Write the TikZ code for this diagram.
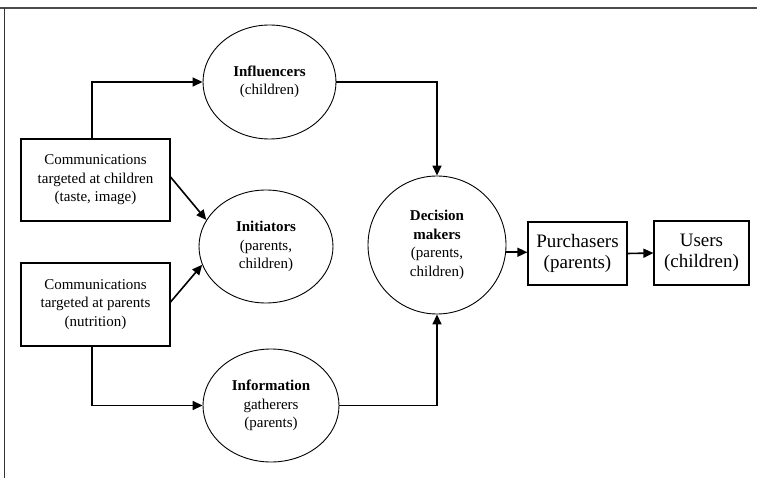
\documentclass[tikz,border=0pt]{standalone}
\usepackage{fontspec}
\setmainfont{Liberation Serif}
\usetikzlibrary{arrows.meta,shapes.geometric}

\tikzset{
  txt/.style={align=center, font=\fontsize{15}{18.5}\selectfont, inner sep=0pt},
  srcbox/.style={txt, draw, line width=1.1pt, rectangle},
  rolebox/.style={draw, line width=1.2pt, rectangle, align=center, inner sep=0pt,
    font=\fontsize{19}{20.5}\selectfont},
  role/.style={txt, draw, line width=0.9pt, ellipse},
  conn/.style={line width=1.6pt, -{Triangle[length=10pt,width=9pt]}},
}

\begin{document}
\begin{tikzpicture}[x=1pt, y=-1pt]
\useasboundingbox (0,0) rectangle (757,478);

% page frame
\draw[black!70, line width=1.6pt] (0,8) -- (757,8);
\draw[black!80, line width=0.8pt] (4,8) -- (4,478);

% message sources
\node[srcbox, minimum width=149pt, minimum height=82pt] (cc) at (95.5,180)
  {Communications\\targeted at children\\(taste, image)};
\node[srcbox, minimum width=149pt, minimum height=83pt] (cp) at (95.5,304.5)
  {Communications\\targeted at parents\\(nutrition)};

% roles in the decision
\node[role, minimum width=133pt, minimum height=114pt] (inf) at (269.5,82)
  {\textbf{Influencers}\\(children)};
\node[role, minimum width=134pt, minimum height=113pt] (ini) at (266,246.5)
  {\textbf{Initiators}\\(parents,\\children)};
\node[role, minimum width=136pt, minimum height=113pt] (info) at (271,405.5)
  {\textbf{Information}\\gatherers\\(parents)};
\node[role, circle, minimum size=138pt] (dec) at (437,245)
  {\textbf{Decision}\\\textbf{makers}\\(parents,\\children)};

\node[rolebox, minimum width=99pt, minimum height=63pt] (pur) at (577.5,253.5)
  {Purchasers\\(parents)};
\node[rolebox, minimum width=95pt, minimum height=64pt] (usr) at (701.5,253)
  {Users\\(children)};

% connectors
\draw[conn] ([xshift=-3.5pt]cc.north) |- (inf.west);
\draw[conn] ([xshift=-3.5pt]cp.south) |- (info.west);
\draw[conn] ([yshift=3pt]cc.east) -- (ini.156);
\draw[conn] ([yshift=2.5pt]cp.east) -- (ini.196);
\draw[conn] (inf.east) -| (dec.north);
\draw[conn] (info.east) -| (dec.south);
\draw[conn] (dec.-6) -- (dec.-6 -| pur.west);
\draw[conn] (pur.east) -- (usr.west);
\end{tikzpicture}
\end{document}
